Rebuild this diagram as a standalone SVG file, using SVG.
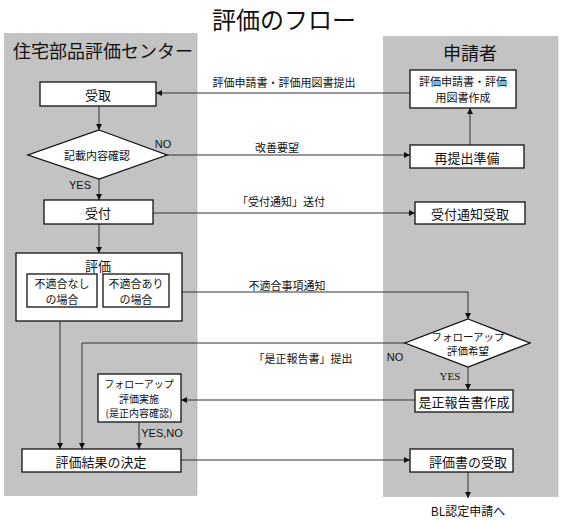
<svg xmlns="http://www.w3.org/2000/svg" width="564" height="521" viewBox="0 0 564 521">
<style>
text{font-family:"Noto Sans CJK JP","Liberation Sans",sans-serif;fill:#111;text-anchor:middle;dominant-baseline:central}
.panel{fill:#c3c3c3;stroke:#a8a8a8;stroke-width:1;stroke-dasharray:1 1}
.box{fill:#fff;stroke:#111;stroke-width:1.3}
.ln{fill:none;stroke:#333;stroke-width:1}
.t13{font-size:13px}
.t12{font-size:12px}
.t11{font-size:11px}
.t10{font-size:10.5px}
.t10s{font-size:10px}
.lab{font-size:11px;font-family:"Liberation Sans","Noto Sans CJK JP",sans-serif}
</style>
<defs>
<marker id="ah" viewBox="0 0 10 10" refX="10" refY="5" markerWidth="6" markerHeight="6" markerUnits="userSpaceOnUse" orient="auto">
<path d="M0,0 L10,5 L0,10 z" fill="#111"/>
</marker>
</defs>
<rect width="564" height="521" fill="#fff"/>
<text x="284" y="18" style="font-size:24px">評価のフロー</text>

<g id="panel-center">
<rect class="panel" x="4.5" y="33.5" width="192.5" height="462"/>
<text x="103" y="50" style="font-size:18px">住宅部品評価センター</text>
</g>
<g id="panel-applicant">
<rect class="panel" x="383.5" y="36.5" width="174.5" height="460"/>
<text x="470" y="52" style="font-size:18px">申請者</text>
</g>

<g id="connectors">
<path class="ln" d="M410,93 H156" marker-end="url(#ah)"/>
<path class="ln" d="M99,106 V130" marker-end="url(#ah)"/>
<path class="ln" d="M167,155 H410" marker-end="url(#ah)"/>
<path class="ln" d="M470,145 V108" marker-end="url(#ah)"/>
<path class="ln" d="M99,179 V200" marker-end="url(#ah)"/>
<path class="ln" d="M153,213 H415" marker-end="url(#ah)"/>
<path class="ln" d="M99,224 V253" marker-end="url(#ah)"/>
<path class="ln" d="M169,292 H468 V319" marker-end="url(#ah)"/>
<path class="ln" d="M468,367 V390" marker-end="url(#ah)"/>
<path class="ln" d="M415,400 H181" marker-end="url(#ah)"/>
<path class="ln" d="M405,343 H82 V449" marker-end="url(#ah)"/>
<path class="ln" d="M60,307 V449" marker-end="url(#ah)"/>
<path class="ln" d="M139,422 V449" marker-end="url(#ah)"/>
<path class="ln" d="M181,460 H410" marker-end="url(#ah)"/>
<path class="ln" d="M468,472 V498" marker-end="url(#ah)"/>
<text class="t11" x="284" y="82">評価申請書・評価用図書提出</text>
<text class="t11" x="277" y="147">改善要望</text>
<text class="lab" x="163" y="144">NO</text>
<text class="lab" x="80" y="185">YES</text>
<text class="t11" x="281" y="201">「受付通知」送付</text>
<text class="t11" x="287" y="285">不適合事項通知</text>
<text class="t11" x="303" y="358">「是正報告書」提出</text>
<text class="lab" x="395" y="357">NO</text>
<text class="lab" x="450" y="376" style="font-family:'Liberation Serif',serif">YES</text>
<text class="lab" x="162" y="433">YES,NO</text>
</g>

<g id="n-app-create">
<rect class="box" x="410" y="70" width="106" height="38"/>
<text class="t11" x="463" y="81">評価申請書・評価</text>
<text class="t11" x="463" y="97">用図書作成</text>
</g>
<g id="n-receive">
<rect class="box" x="40" y="82" width="116" height="24"/>
<text class="t13" x="98" y="94">受取</text>
</g>
<g id="n-check">
<polygon class="box" points="99,130 167,155 99,179 28,155"/>
<text class="t11" x="97" y="155">記載内容確認</text>
</g>
<g id="n-resubmit">
<rect class="box" x="410" y="145" width="114" height="23"/>
<text class="t13" x="467" y="157">再提出準備</text>
</g>
<g id="n-accept">
<rect class="box" x="44" y="200" width="109" height="24"/>
<text class="t13" x="98" y="212">受付</text>
</g>
<g id="n-accept-notice">
<rect class="box" x="415" y="202" width="110" height="22"/>
<text class="t13" x="470" y="213">受付通知受取</text>
</g>
<g id="n-eval">
<rect class="box" x="16" y="253" width="166" height="68"/>
<text class="t13" x="98" y="265">評価</text>
<rect class="box" x="27" y="274" width="70" height="33"/>
<text class="t11" x="62" y="283">不適合なし</text>
<text class="t11" x="62" y="299">の場合</text>
<rect class="box" x="103" y="274" width="66" height="33"/>
<text class="t11" x="136" y="283">不適合あり</text>
<text class="t11" x="136" y="299">の場合</text>
</g>
<g id="n-follow-wish">
<polygon class="box" points="468,319 530,343 468,367 405,343"/>
<text class="t10" x="468" y="336">フォローアップ</text>
<text class="t10" x="468" y="350">評価希望</text>
</g>
<g id="n-follow-do">
<rect class="box" x="98" y="374" width="83" height="48"/>
<text class="t10s" x="139" y="383.5">フォローアップ</text>
<text class="t10s" x="139" y="398">評価実施</text>
<text class="t10s" x="139" y="412.5">(是正内容確認)</text>
</g>
<g id="n-report">
<rect class="box" x="415" y="390" width="98" height="22"/>
<text class="t13" x="464" y="401">是正報告書作成</text>
</g>
<g id="n-decide">
<rect class="box" x="22" y="449" width="159" height="23"/>
<text class="t13" x="101" y="461">評価結果の決定</text>
</g>
<g id="n-doc-receive">
<rect class="box" x="410" y="449" width="103" height="23"/>
<text class="t13" x="468" y="461">評価書の受取</text>
</g>
<text class="t12" x="468" y="510">BL認定申請へ</text>
</svg>
